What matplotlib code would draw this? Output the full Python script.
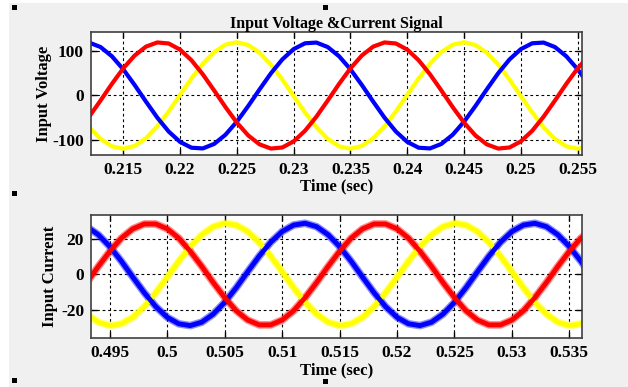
import numpy as np
import matplotlib
matplotlib.use("Agg")
import matplotlib.pyplot as plt
from matplotlib.patches import Rectangle

# sample times (1 ms spacing)
time_v = np.arange(212, 257) / 1000.0
time_i = np.arange(493, 538) / 1000.0

# input voltage, three phases
volt_red = [-47.7, -11.3, 26.2, 61.1, 90.0, 110.1, 119.5, 117.1, 103.3, 79.4,
            47.7, 11.3, -26.2, -61.1, -90.0, -110.1, -119.5, -117.1, -103.3, -79.4,
            -47.7, -11.3, 26.2, 61.1, 90.0, 110.1, 119.5, 117.1, 103.3, 79.4,
            47.7, 11.3, -26.2, -61.1, -90.0, -110.1, -119.5, -117.1, -103.3, -79.4,
            -47.7, -11.3, 26.2, 61.1, 90.0]
volt_yellow = [-71.5, -97.8, -114.5, -120.0, -113.7, -96.3, -69.5, -35.9, 1.3, 38.3,
               71.5, 97.8, 114.5, 120.0, 113.7, 96.3, 69.5, 35.9, -1.3, -38.3,
               -71.5, -97.8, -114.5, -120.0, -113.7, -96.3, -69.5, -35.9, 1.3, 38.3,
               71.5, 97.8, 114.5, 120.0, 113.7, 96.3, 69.5, 35.9, -1.3, -38.3,
               -71.5, -97.8, -114.5, -120.0, -113.7]
volt_blue = [119.2, 109.1, 88.3, 58.9, 23.7, -13.8, -50.0, -81.2, -104.5, -117.6,
             -119.2, -109.1, -88.3, -58.9, -23.7, 13.8, 50.0, 81.2, 104.5, 117.6,
             119.2, 109.1, 88.3, 58.9, 23.7, -13.8, -50.0, -81.2, -104.5, -117.6,
             -119.2, -109.1, -88.3, -58.9, -23.7, 13.8, 50.0, 81.2, 104.5, 117.6,
             119.2, 109.1, 88.3, 58.9, 23.7]

# input current, three phases
curr_red = [-4.5, 4.5, 12.9, 20.2, 25.4, 28.1, 28.1, 25.4, 20.2, 12.9,
            4.5, -4.5, -12.9, -20.2, -25.4, -28.1, -28.1, -25.4, -20.2, -12.9,
            -4.5, 4.5, 12.9, 20.2, 25.4, 28.1, 28.1, 25.4, 20.2, 12.9,
            4.5, -4.5, -12.9, -20.2, -25.4, -28.1, -28.1, -25.4, -20.2, -12.9,
            -4.5, 4.5, 12.9, 20.2, 25.4]
curr_yellow = [-22.1, -26.6, -28.5, -27.5, -23.9, -17.9, -10.2, -1.5, 7.4, 15.5,
               22.1, 26.6, 28.5, 27.5, 23.9, 17.9, 10.2, 1.5, -7.4, -15.5,
               -22.1, -26.6, -28.5, -27.5, -23.9, -17.9, -10.2, -1.5, 7.4, 15.5,
               22.1, 26.6, 28.5, 27.5, 23.9, 17.9, 10.2, 1.5, -7.4, -15.5,
               -22.1, -26.6, -28.5, -27.5, -23.9]
curr_blue = [26.6, 22.1, 15.5, 7.4, -1.5, -10.2, -17.9, -23.9, -27.5, -28.5,
             -26.6, -22.1, -15.5, -7.4, 1.5, 10.2, 17.9, 23.9, 27.5, 28.5,
             26.6, 22.1, 15.5, 7.4, -1.5, -10.2, -17.9, -23.9, -27.5, -28.5,
             -26.6, -22.1, -15.5, -7.4, 1.5, 10.2, 17.9, 23.9, 27.5, 28.5,
             26.6, 22.1, 15.5, 7.4, -1.5]

volt_xticks = [0.215, 0.22, 0.225, 0.23, 0.235, 0.24, 0.245, 0.25, 0.255]
volt_xlabels = ["0.215", "0.22", "0.225", "0.23", "0.235", "0.24", "0.245", "0.25", "0.255"]
volt_yticks = [-100, 0, 100]
curr_xticks = [0.495, 0.5, 0.505, 0.51, 0.515, 0.52, 0.525, 0.53, 0.535]
curr_xlabels = ["0.495", "0.5", "0.505", "0.51", "0.515", "0.52", "0.525", "0.53", "0.535"]
curr_yticks = [-20, 0, 20]

plt.rcParams["font.family"] = ["Liberation Serif", "DejaVu Serif"]
plt.rcParams["font.weight"] = "bold"
plt.rcParams["axes.unicode_minus"] = False

W, H = 628, 387
fig = plt.figure(figsize=(W / 100, H / 100), dpi=100, facecolor="white")

# gray figure window area
fig.patches.append(Rectangle((9 / W, 0), 1, 1 - 3 / H, transform=fig.transFigure,
                             facecolor="#f0f0f0", edgecolor="none", zorder=-10))

def style_axes(ax, xticks, xlabels, yticks):
    ax.set_facecolor("white")
    ax.set_xticks(xticks)
    ax.set_xticklabels(xlabels)
    ax.set_yticks(yticks)
    ax.tick_params(direction="in", length=4, width=1, labelsize=12.5, pad=5,
                   top=True, right=True)
    for lab in ax.get_xticklabels() + ax.get_yticklabels():
        lab.set_fontweight("bold")
    ax.grid(True, color="black", linestyle=(0, (2.5, 2.5)), linewidth=0.8)
    for s in ax.spines.values():
        s.set_color("#404040")
        s.set_linewidth(1.2)

# voltage panel
ax1 = fig.add_axes([91 / W, 1 - 155 / H, 491 / W, 123 / H])
ax1.plot(time_v, volt_yellow, color="#ffff00", lw=3)
ax1.plot(time_v, volt_blue, color="#0000ff", lw=3)
ax1.plot(time_v, volt_red, color="#ff0000", lw=3)
ax1.set_xlim(0.21216, 0.25538)
ax1.set_ylim(-134, 143)
style_axes(ax1, volt_xticks, volt_xlabels, volt_yticks)
ax1.set_title("Input Voltage &Current Signal", fontsize=11.5, fontweight="bold", pad=3)
ax1.set_xlabel("Time (sec)", fontsize=12, fontweight="bold", labelpad=0)
ax1.set_ylabel("Input Voltage", fontsize=12, fontweight="bold", labelpad=0)

# current panel
ax2 = fig.add_axes([91 / W, 1 - 338 / H, 491 / W, 123 / H])
for lw, al in [(5.5, 0.45), (3.5, 1.0)]:
    ax2.plot(time_i, curr_yellow, color="#ffff00", lw=lw, alpha=al)
    ax2.plot(time_i, curr_blue, color="#0000ff", lw=lw, alpha=al)
    ax2.plot(time_i, curr_red, color="#ff0000", lw=lw, alpha=al)
ax2.set_xlim(0.49336, 0.5361)
ax2.set_ylim(-35.4, 33.1)
style_axes(ax2, curr_xticks, curr_xlabels, curr_yticks)
ax2.set_xlabel("Time (sec)", fontsize=12, fontweight="bold", labelpad=1)
ax2.set_ylabel("Input Current", fontsize=12, fontweight="bold", labelpad=2)

# selection handles
for hx, hy in [(14, 7), (325, 7), (14, 193), (14, 380), (325, 381)]:
    fig.patches.append(Rectangle(((hx - 2.5) / W, 1 - (hy + 2.5) / H), 5 / W, 5 / H,
                                 transform=fig.transFigure, facecolor="black",
                                 edgecolor="none", zorder=10))

fig.savefig("out.png", dpi=100, facecolor=fig.get_facecolor())
